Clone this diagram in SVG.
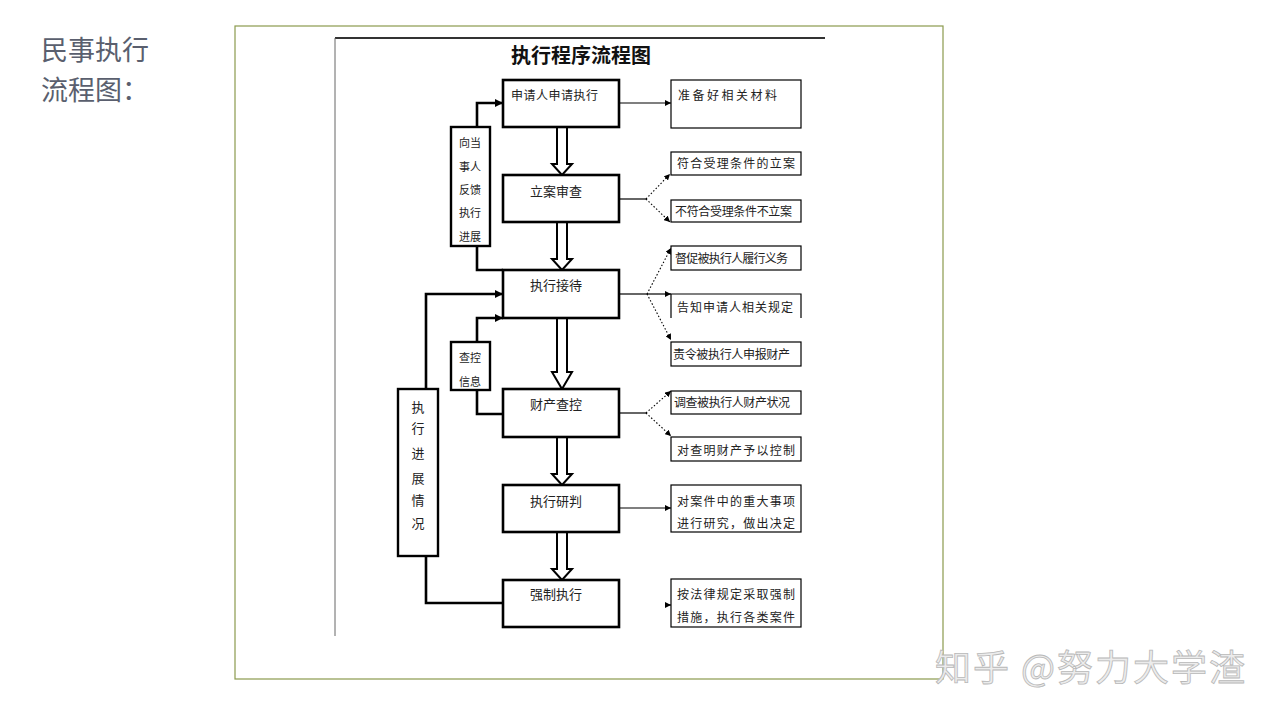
<svg xmlns="http://www.w3.org/2000/svg" width="1280" height="720" viewBox="0 0 1280 720">
<defs>
<marker id="ah" viewBox="0 0 8 8" refX="8" refY="4" markerWidth="6" markerHeight="6" markerUnits="userSpaceOnUse" orient="auto"><path d="M0,0 L8,4 L0,8 z" fill="#000"/></marker>
<marker id="ahb" viewBox="0 0 8 8" refX="8" refY="4" markerWidth="8" markerHeight="8" markerUnits="userSpaceOnUse" orient="auto"><path d="M0,0 L8,4 L0,8 z" fill="#000"/></marker>
</defs>
<style>
.main{fill:#fff;stroke:#000;stroke-width:2.6}
.side{fill:#fff;stroke:#000;stroke-width:1.2}
.fb{fill:#fff;stroke:#000;stroke-width:2.4}
.t{font-family:"Noto Sans CJK SC","Liberation Sans",sans-serif;fill:#222;font-size:12px}
.tm{font-family:"Noto Sans CJK SC","Liberation Sans",sans-serif;fill:#222;font-size:13px;text-anchor:middle}
.tf{font-family:"Noto Sans CJK SC","Liberation Sans",sans-serif;fill:#222;font-size:11px;text-anchor:middle}
.thin{fill:none;stroke:#000;stroke-width:1.2}
.dot{fill:none;stroke:#000;stroke-width:1.1;stroke-dasharray:1.5,2}
.thick{fill:none;stroke:#000;stroke-width:2.6}
.dbl{fill:#fff;stroke:#000;stroke-width:2}
.hd{font-family:"Noto Sans CJK SC",sans-serif;font-size:27px;fill:#5a5f6e}
</style>
<rect width="1280" height="720" fill="#fff"/>
<g id="heading">
<text class="hd" x="41" y="60">民事执行</text>
<text class="hd" x="41" y="100">流程图：</text>
</g>
<g id="frame">
<rect x="235" y="26" width="708" height="653" fill="none" stroke="#8b9a4e" stroke-width="1.2"/>
<line x1="335" y1="38" x2="825" y2="38" stroke="#333" stroke-width="2"/>
<line x1="335" y1="38" x2="335" y2="636" stroke="#666" stroke-width="1"/>
<text x="581" y="63" text-anchor="middle" font-family="Noto Sans CJK SC, sans-serif" font-size="20" font-weight="bold" fill="#111">执行程序流程图</text>
</g>
<g id="connectors">
<path class="dbl" d="M557,127 V164 H552 L562,175 L572,164 H567 V127"/>
<path class="dbl" d="M557,222 V259 H552 L562,270 L572,259 H567 V222"/>
<path class="dbl" d="M557,318 V372 H552 L562,389 L572,372 H567 V318"/>
<path class="dbl" d="M557,437 V474 H552 L562,485 L572,474 H567 V437"/>
<path class="dbl" d="M557,532 V569 H552 L562,580 L572,569 H567 V532"/>
<line class="thin" x1="619" y1="103" x2="671" y2="103" marker-end="url(#ah)"/>
<line class="thin" x1="619" y1="199" x2="646" y2="199"/>
<line class="dot" x1="646" y1="199" x2="670" y2="174" marker-end="url(#ah)"/>
<line class="dot" x1="646" y1="199" x2="670" y2="222" marker-end="url(#ah)"/>
<line class="thin" x1="619" y1="294" x2="647" y2="294"/>
<line class="dot" x1="647" y1="294" x2="671" y2="248" marker-end="url(#ah)"/>
<line class="thin" x1="647" y1="294" x2="671" y2="294" marker-end="url(#ah)"/>
<line class="dot" x1="647" y1="294" x2="671" y2="340" marker-end="url(#ah)"/>
<line class="thin" x1="619" y1="413" x2="646" y2="413"/>
<line class="dot" x1="646" y1="413" x2="671" y2="391" marker-end="url(#ah)"/>
<line class="dot" x1="646" y1="413" x2="671" y2="436" marker-end="url(#ah)"/>
<line class="thin" x1="619" y1="508" x2="671" y2="508" marker-end="url(#ah)"/>
<line class="thin" x1="666" y1="605" x2="671" y2="605" marker-end="url(#ah)"/>
<path class="thick" d="M477,127 V103 H503" marker-end="url(#ahb)"/>
<path class="thick" d="M477,246 V270 H503"/>
<path class="thick" d="M477,342 V318 H503" marker-end="url(#ahb)"/>
<path class="thick" d="M477,390 V414 H503"/>
<path class="thick" d="M426,389 V294 H503" marker-end="url(#ahb)"/>
<path class="thick" d="M426,556 V603 H503"/>
</g>
<g id="n1"><rect class="main" x="503" y="80" width="116" height="47"/><text class="t" x="511" y="100" textLength="87" font-size="12.5">申请人申请执行</text></g>
<g id="n2"><rect class="main" x="503" y="175" width="116" height="47"/><text class="tm" x="556" y="196">立案审查</text></g>
<g id="n3"><rect class="main" x="503" y="270" width="116" height="48"/><text class="tm" x="556" y="290">执行接待</text></g>
<g id="n4"><rect class="main" x="503" y="389" width="116" height="48"/><text class="tm" x="556" y="409">财产查控</text></g>
<g id="n5"><rect class="main" x="503" y="485" width="116" height="47"/><text class="tm" x="556" y="506">执行研判</text></g>
<g id="n6"><rect class="main" x="503" y="580" width="116" height="47"/><text class="tm" x="556" y="599">强制执行</text></g>
<g id="r1"><rect class="side" x="671" y="80" width="130" height="48"/><text class="t" x="678" y="100" textLength="99">准备好相关材料</text></g>
<g id="r2"><rect class="side" x="671" y="152" width="130" height="23"/><text class="t" x="677" y="168" textLength="118">符合受理条件的立案</text></g>
<g id="r3"><rect class="side" x="671" y="200" width="130" height="22"/><text class="t" x="675" y="216" textLength="117">不符合受理条件不立案</text></g>
<g id="r4"><rect class="side" x="671" y="246" width="130" height="24"/><text class="t" x="675" y="263" textLength="113">督促被执行人履行义务</text></g>
<g id="r5"><path class="side" fill="none" d="M671,318 V294 H801 V318"/><text class="t" x="677" y="312" textLength="116" font-size="13">告知申请人相关规定</text></g>
<g id="r6"><rect class="side" x="671" y="342" width="130" height="24"/><text class="t" x="673" y="359" textLength="117" font-size="11.5">责令被执行人申报财产</text></g>
<g id="r7"><rect class="side" x="671" y="391" width="130" height="23"/><text class="t" x="674" y="407" textLength="116">调查被执行人财产状况</text></g>
<g id="r8"><rect class="side" x="671" y="437" width="130" height="24"/><text class="t" x="677" y="455" textLength="118" font-size="13">对查明财产予以控制</text></g>
<g id="r9"><rect class="side" x="671" y="485" width="130" height="47"/><text class="t" x="677" y="506" textLength="118" font-size="13">对案件中的重大事项</text><text class="t" x="677" y="528" textLength="118" font-size="13">进行研究，做出决定</text></g>
<g id="r10"><rect class="side" x="671" y="579" width="130" height="48"/><text class="t" x="677" y="599" textLength="118" font-size="13">按法律规定采取强制</text><text class="t" x="677" y="622" textLength="118" font-size="13">措施，执行各类案件</text></g>
<g id="f1"><rect class="fb" x="451" y="127" width="39" height="119"/>
<text class="tf" x="470" y="147">向当</text><text class="tf" x="470" y="171">事人</text><text class="tf" x="470" y="194">反馈</text><text class="tf" x="470" y="217">执行</text><text class="tf" x="470" y="241">进展</text></g>
<g id="f2"><rect class="fb" x="451" y="342" width="39" height="48"/>
<text class="tf" x="470" y="362">查控</text><text class="tf" x="470" y="386">信息</text></g>
<g id="f3"><rect class="fb" x="398" y="389" width="40" height="167"/>
<text class="tm" x="418" y="412">执</text><text class="tm" x="418" y="433">行</text><text class="tm" x="418" y="458">进</text><text class="tm" x="418" y="483">展</text><text class="tm" x="418" y="505">情</text><text class="tm" x="418" y="528">况</text></g>
<g id="watermark">
<text x="935" y="681" font-family="Noto Sans CJK SC, sans-serif" font-size="36" fill="#ececec" stroke="#b8b8b8" stroke-width="0.8" textLength="310">知乎 @努力大学渣</text>
</g>
</svg>
